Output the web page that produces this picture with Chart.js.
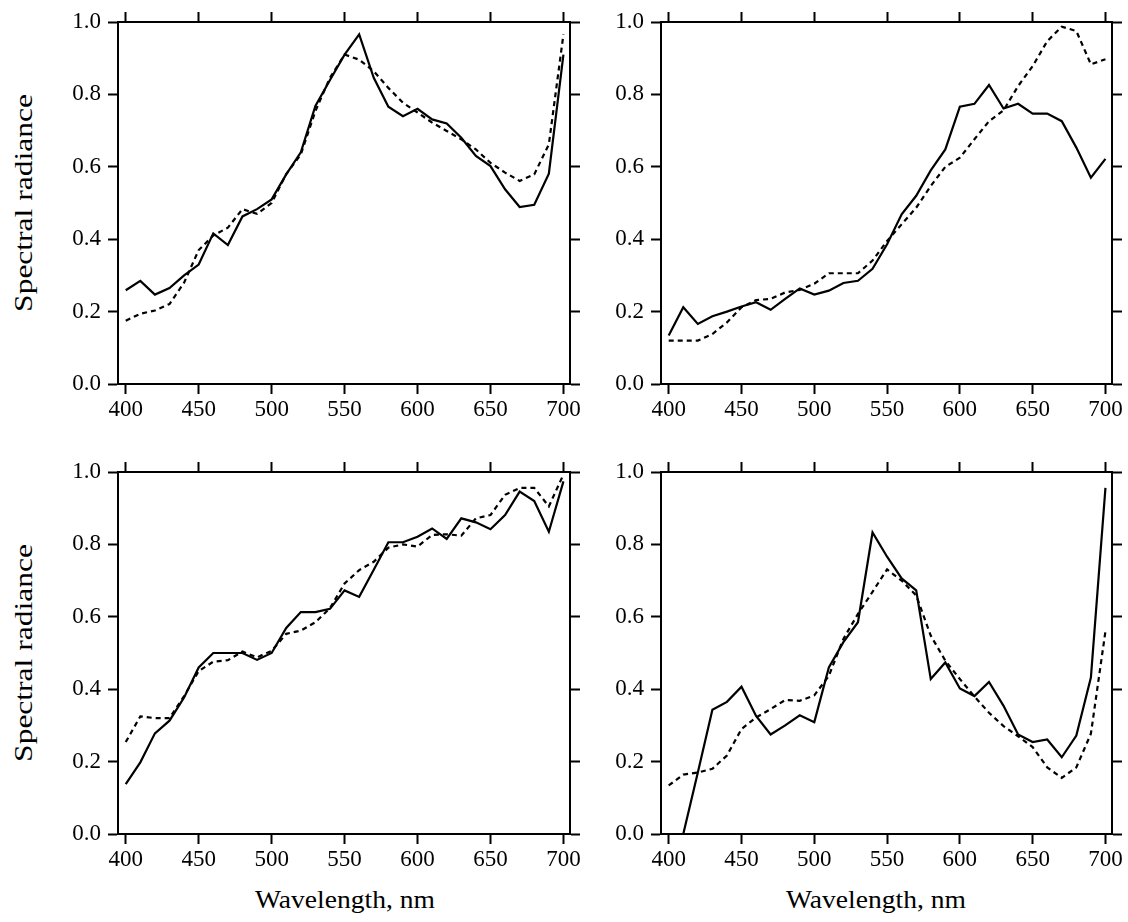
<!DOCTYPE html>
<html lang="en">
<head>
<meta charset="UTF-8">
<title>Spectral radiance</title>
<script src="https://cdn.jsdelivr.net/npm/chart.js"></script>
<style>
    body { margin: 0; background: #fff; font-family: "Liberation Serif", "DejaVu Serif", serif; }
    #page { position: relative; width: 1128px; height: 922px; }
    canvas { position: absolute; }
    .title { position: absolute; color: #000; white-space: nowrap; }
    .ytitle { font-size: 25px; transform: translate(-50%, -50%) rotate(-90deg) scaleX(1.26); }
    .xtitle { font-size: 26px; transform: translate(-50%, -50%) scaleX(1.06); }
</style>
</head>
<body>
<div id="page">
    <canvas id="chartA" width="540" height="417" style="left:58px; top:7px;"></canvas>
    <canvas id="chartB" width="525" height="417" style="left:601px; top:7px;"></canvas>
    <canvas id="chartC" width="540" height="417" style="left:58px; top:457px;"></canvas>
    <canvas id="chartD" width="525" height="417" style="left:601px; top:457px;"></canvas>

    <div class="title ytitle" style="left:24px; top:203px;">Spectral radiance</div>
    <div class="title ytitle" style="left:24px; top:653px;">Spectral radiance</div>
    <div class="title xtitle" style="left:345px; top:900px;">Wavelength, nm</div>
    <div class="title xtitle" style="left:876px; top:900px;">Wavelength, nm</div>
</div>

<script>
    // wavelength grid shared by all curves (nm)
    const wavelengths = [400, 410, 420, 430, 440, 450, 460, 470, 480, 490, 500,
                         510, 520, 530, 540, 550, 560, 570, 580, 590, 600,
                         610, 620, 630, 640, 650, 660, 670, 680, 690, 700];
    const xTicks = [400, 450, 500, 550, 600, 650, 700];
    const yTicks = [0, 0.2, 0.4, 0.6, 0.8, 1.0];

    // top left
    const solidA  = [0.259, 0.285, 0.247, 0.265, 0.300, 0.330, 0.416, 0.384, 0.463, 0.483, 0.510,
                     0.579, 0.640, 0.768, 0.840, 0.910, 0.966, 0.846, 0.766, 0.740, 0.760,
                     0.731, 0.720, 0.680, 0.630, 0.602, 0.538, 0.489, 0.495, 0.581, 0.910];
    const dashedA = [0.175, 0.194, 0.203, 0.221, 0.280, 0.370, 0.410, 0.432, 0.483, 0.470, 0.500,
                     0.580, 0.634, 0.754, 0.846, 0.910, 0.896, 0.864, 0.818, 0.777, 0.750,
                     0.722, 0.699, 0.676, 0.648, 0.611, 0.584, 0.561, 0.579, 0.662, 0.966];
    // top right
    const solidB  = [0.134, 0.212, 0.166, 0.187, 0.200, 0.214, 0.226, 0.205, 0.235, 0.264, 0.247,
                     0.258, 0.279, 0.285, 0.318, 0.386, 0.469, 0.520, 0.590, 0.648, 0.766,
                     0.774, 0.826, 0.761, 0.774, 0.747, 0.747, 0.726, 0.653, 0.570, 0.622];
    const dashedB = [0.120, 0.120, 0.120, 0.138, 0.170, 0.212, 0.232, 0.235, 0.253, 0.260, 0.277,
                     0.306, 0.306, 0.306, 0.341, 0.395, 0.441, 0.487, 0.547, 0.600, 0.625,
                     0.676, 0.726, 0.756, 0.823, 0.878, 0.947, 0.987, 0.975, 0.883, 0.897];
    // bottom left
    const solidC  = [0.138, 0.198, 0.278, 0.313, 0.377, 0.460, 0.500, 0.500, 0.500, 0.481, 0.500,
                     0.569, 0.613, 0.613, 0.622, 0.673, 0.655, 0.730, 0.806, 0.806, 0.821,
                     0.844, 0.815, 0.872, 0.861, 0.842, 0.881, 0.946, 0.920, 0.835, 0.974];
    const dashedC = [0.254, 0.325, 0.320, 0.320, 0.381, 0.450, 0.476, 0.480, 0.504, 0.488, 0.506,
                     0.553, 0.562, 0.585, 0.624, 0.692, 0.729, 0.752, 0.791, 0.800, 0.794,
                     0.826, 0.828, 0.824, 0.872, 0.881, 0.937, 0.956, 0.956, 0.905, 0.993];
    // bottom right
    const solidD  = [null, 0.000, 0.170, 0.343, 0.365, 0.407, 0.326, 0.275, 0.300, 0.328, 0.309,
                     0.460, 0.530, 0.585, 0.833, 0.766, 0.706, 0.673, 0.428, 0.474, 0.402,
                     0.381, 0.420, 0.354, 0.275, 0.254, 0.261, 0.212, 0.272, 0.432, 0.956];
    const dashedD = [0.134, 0.164, 0.170, 0.180, 0.217, 0.290, 0.322, 0.345, 0.370, 0.368, 0.383,
                     0.437, 0.539, 0.608, 0.669, 0.731, 0.700, 0.659, 0.548, 0.479, 0.428,
                     0.380, 0.335, 0.298, 0.270, 0.240, 0.184, 0.155, 0.184, 0.277, 0.560];

    const tickFont = { family: "'Liberation Serif', serif", size: 23 };

    // one axis of a panel; the top and right copies only carry tick marks
    function axis(position, ticksList, showLabels, size) {
        const horizontal = position === 'bottom' || position === 'top';
        return {
            type: 'linear',
            display: true,
            position: position,
            min: horizontal ? 394.7 : 0,
            max: horizontal ? 704.5 : 1,
            afterBuildTicks: s => { s.ticks = ticksList.map(v => ({ value: v })); },
            afterFit: s => {
                if (horizontal) s.height = size; else s.width = size;
                // keep label overhang from pushing the plot area around
                s.paddingTop = s.paddingBottom = s.paddingLeft = s.paddingRight = 0;
            },
            ticks: {
                display: true,
                color: showLabels ? '#000' : 'rgba(0,0,0,0)',
                font: showLabels ? tickFont : { size: 10 },
                padding: showLabels ? (horizontal ? 2 : 7) : 2,
                maxRotation: 0,
                autoSkip: false,
                callback: v => horizontal ? String(v) : v.toFixed(1)
            },
            grid: {
                display: true,
                drawOnChartArea: false,
                drawTicks: true,
                tickLength: 10,
                tickWidth: 2,
                tickColor: '#000'
            },
            border: { display: true, color: '#000', width: 2 }
        };
    }

    // rightSize: width of the right-hand strip, so the plot area ends where the reference does
    function renderChart(canvasId, solid, dashed, rightSize) {
        const ctx = document.getElementById(canvasId).getContext('2d');
        new Chart(ctx, {
            type: 'line',
            data: {
                datasets: [
                    {
                        label: 'solid',
                        data: wavelengths.map((w, i) => ({ x: w, y: solid[i] })),
                        xAxisID: 'x',
                        yAxisID: 'y',
                        borderColor: '#000',
                        borderWidth: 2.2,
                        pointRadius: 0,
                        tension: 0,
                        fill: false
                    },
                    {
                        // x2 / y2 share the ranges of x / y
                        label: 'dashed',
                        data: wavelengths.map((w, i) => ({ x: w, y: dashed[i] })),
                        xAxisID: 'x2',
                        yAxisID: 'y2',
                        borderColor: '#000',
                        borderWidth: 2.2,
                        borderDash: [5, 4],
                        pointRadius: 0,
                        tension: 0,
                        fill: false
                    }
                ]
            },
            options: {
                responsive: false,
                animation: false,
                layout: { padding: 0, autoPadding: false },
                plugins: { legend: { display: false }, tooltip: { enabled: false } },
                scales: {
                    x: axis('bottom', xTicks, true, 40),
                    x2: axis('top', xTicks, false, 15),
                    y: axis('left', yTicks, true, 60),
                    y2: axis('right', yTicks, false, rightSize)
                }
            }
        });
    }

    renderChart('chartA', solidA, dashedA, 28);
    renderChart('chartB', solidB, dashedB, 14);
    renderChart('chartC', solidC, dashedC, 28);
    renderChart('chartD', solidD, dashedD, 14);
</script>
</body>
</html>
